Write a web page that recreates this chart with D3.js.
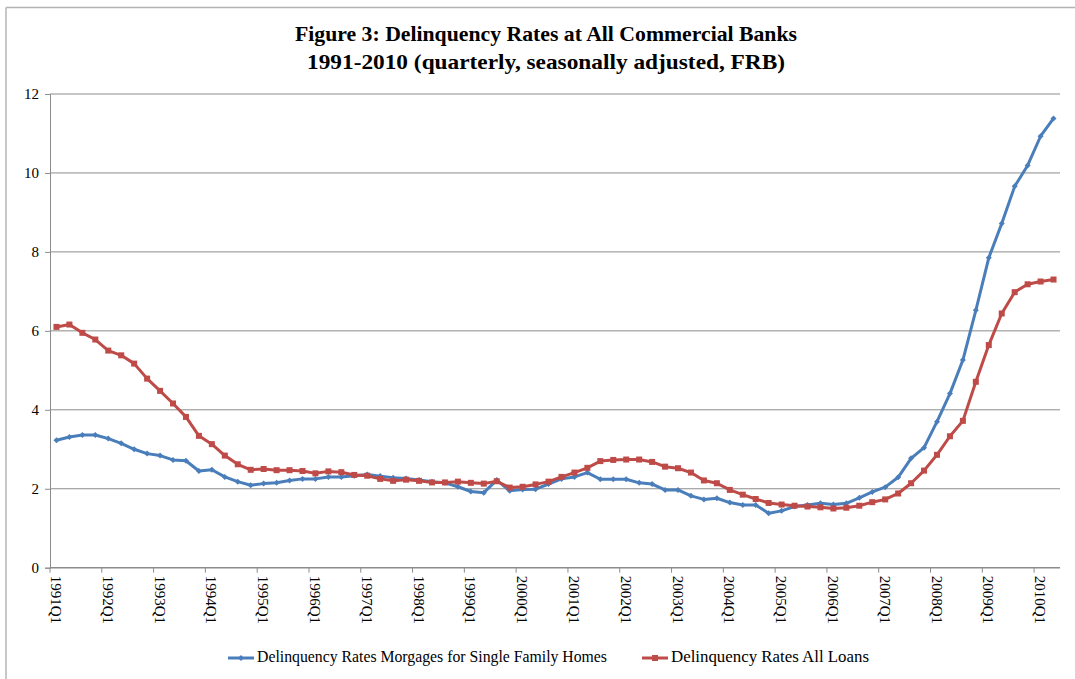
<!DOCTYPE html>
<html>
<head>
<meta charset="utf-8">
<script src="https://cdn.jsdelivr.net/npm/d3@7"></script>
<style>
  body { margin: 0; background: #fff; }
  svg { display: block; }
  svg text { font-family: "Liberation Serif", "DejaVu Serif", serif; fill: #000; }
</style>
</head>
<body>
<svg id="chart"></svg>
<script>
// quarterly categories 1991Q1 .. 2010Q2
const years = d3.range(1991, 2011);
const quarters = years.flatMap(y => [1, 2, 3, 4].map(q => y + "Q" + q)).slice(0, 78);

// Delinquency rates, single family home mortgages
const mortgages = [
  3.23, 3.31, 3.36, 3.36, 3.27, 3.15, 3.00, 2.89, 2.84, 2.73,
  2.71, 2.45, 2.48, 2.30, 2.18, 2.09, 2.13, 2.15, 2.21, 2.25,
  2.25, 2.30, 2.30, 2.33, 2.36, 2.32, 2.28, 2.26, 2.22, 2.18,
  2.15, 2.05, 1.93, 1.90, 2.22, 1.95, 1.98, 1.99, 2.12, 2.25,
  2.30, 2.41, 2.24, 2.24, 2.24, 2.15, 2.12, 1.97, 1.97, 1.82,
  1.73, 1.76, 1.65, 1.59, 1.59, 1.38, 1.44, 1.55, 1.59, 1.63,
  1.60, 1.63, 1.77, 1.92, 2.04, 2.29, 2.77, 3.04, 3.70, 4.41,
  5.26, 6.52, 7.85, 8.72, 9.66, 10.19, 10.93, 11.38
];

// Delinquency rates, all loans
const allLoans = [
  6.10, 6.16, 5.95, 5.78, 5.50, 5.38, 5.17, 4.79, 4.48, 4.16,
  3.82, 3.34, 3.13, 2.84, 2.62, 2.48, 2.50, 2.47, 2.47, 2.45,
  2.39, 2.44, 2.42, 2.35, 2.33, 2.25, 2.20, 2.23, 2.20, 2.16,
  2.16, 2.18, 2.15, 2.13, 2.19, 2.03, 2.05, 2.11, 2.18, 2.30,
  2.41, 2.53, 2.70, 2.73, 2.74, 2.74, 2.68, 2.56, 2.52, 2.41,
  2.21, 2.14, 1.97, 1.85, 1.74, 1.64, 1.60, 1.57, 1.55, 1.53,
  1.50, 1.52, 1.57, 1.66, 1.73, 1.88, 2.14, 2.46, 2.86, 3.33,
  3.72, 4.71, 5.64, 6.44, 6.98, 7.18, 7.25, 7.30
];

const yTicks = [0, 2, 4, 6, 8, 10, 12];

const seriesNames = [
  "Delinquency Rates Morgages for Single Family Homes",
  "Delinquency Rates All Loans"
];
const seriesColors = ["#4a7ebb", "#be4b48"];

const W = 1075, H = 679;
const svg = d3.select("#chart").attr("width", W).attr("height", H);

// outer frame (top and left edges only visible)
svg.append("line").attr("x1", 6).attr("x2", W).attr("y1", 7.5).attr("y2", 7.5)
  .attr("stroke", "#b4b4b4").attr("stroke-width", 1.5);
svg.append("line").attr("x1", 6).attr("x2", 6).attr("y1", 7.5).attr("y2", H)
  .attr("stroke", "#b4b4b4").attr("stroke-width", 1.5);

// title
svg.append("text").attr("x", 546).attr("y", 41).attr("text-anchor", "middle")
  .attr("font-size", 21).attr("font-weight", "bold")
  .attr("textLength", 502).attr("lengthAdjust", "spacingAndGlyphs")
  .text("Figure 3: Delinquency Rates at All Commercial Banks");
svg.append("text").attr("x", 546).attr("y", 69).attr("text-anchor", "middle")
  .attr("font-size", 21).attr("font-weight", "bold")
  .attr("textLength", 478).attr("lengthAdjust", "spacingAndGlyphs")
  .text("1991-2010 (quarterly, seasonally adjusted, FRB)");

const x = d3.scaleBand().domain(quarters).range([50, 1060]);
const y = d3.scaleLinear().domain([0, 12]).range([567.7, 94]);
const cx = d => x(d) + x.bandwidth() / 2;

// gridlines
svg.append("g").selectAll("line").data(yTicks.filter(t => t > 0)).join("line")
  .attr("x1", 50).attr("x2", 1060)
  .attr("y1", d => y(d)).attr("y2", d => y(d))
  .attr("stroke", "#8c8c8c").attr("stroke-width", 1);

// y axis
const yAxis = svg.append("g").attr("transform", "translate(50,0)")
  .call(d3.axisLeft(y).tickValues(yTicks).tickSize(5).tickPadding(6).tickFormat(d3.format("d")));
yAxis.attr("font-family", null);
yAxis.select(".domain").attr("stroke", "#8c8c8c");
yAxis.selectAll(".tick line").attr("stroke", "#8c8c8c");
yAxis.selectAll("text").attr("font-size", 15);

// x axis
svg.append("line").attr("x1", 50).attr("x2", 1060).attr("y1", y(0)).attr("y2", y(0))
  .attr("stroke", "#8c8c8c").attr("stroke-width", 1.5);
const firstQ = quarters.filter(q => q.endsWith("Q1"));
svg.append("g").selectAll("line").data(firstQ).join("line")
  .attr("x1", d => x(d)).attr("x2", d => x(d))
  .attr("y1", y(0)).attr("y2", y(0) + 5)
  .attr("stroke", "#8c8c8c");
svg.append("g").selectAll("text").data(firstQ).join("text")
  .attr("transform", d => `translate(${cx(d) - 2},${y(0) + 8}) rotate(90)`)
  .attr("dominant-baseline", "middle")
  .attr("font-size", 15)
  .text(d => d);

// lines
const series = [mortgages, allLoans];
const line = d3.line().x((d, i) => cx(quarters[i])).y(d => y(d));

series.forEach((vals, s) => {
  svg.append("path").datum(vals)
    .attr("d", line)
    .attr("fill", "none")
    .attr("stroke", seriesColors[s])
    .attr("stroke-width", 3)
    .attr("stroke-linejoin", "round");
});

// markers: small diamonds for mortgages, squares for all loans
svg.append("g").selectAll("path").data(mortgages).join("path")
  .attr("transform", (d, i) => `translate(${cx(quarters[i])},${y(d)})`)
  .attr("d", "M0,-3L3,0L0,3L-3,0Z")
  .attr("fill", seriesColors[0]);
svg.append("g").selectAll("rect").data(allLoans).join("rect")
  .attr("x", (d, i) => cx(quarters[i]) - 3)
  .attr("y", d => y(d) - 3)
  .attr("width", 6).attr("height", 6)
  .attr("fill", seriesColors[1]);

// legend
const legendX = [228, 642];
const legendW = [350, 198];
seriesNames.forEach((name, s) => {
  const g = svg.append("g").attr("transform", `translate(${legendX[s]},658)`);
  g.append("line").attr("x1", 0).attr("x2", 26)
    .attr("stroke", seriesColors[s]).attr("stroke-width", 3);
  if (s === 0) {
    g.append("path").attr("d", "M13,-3L16,0L13,3L10,0Z").attr("fill", seriesColors[s]);
  } else {
    g.append("rect").attr("x", 10).attr("y", -3).attr("width", 6).attr("height", 6)
      .attr("fill", seriesColors[s]);
  }
  g.append("text").attr("x", 29).attr("y", 0).attr("dominant-baseline", "middle")
    .attr("font-size", 16)
    .attr("textLength", legendW[s]).attr("lengthAdjust", "spacingAndGlyphs")
    .text(name);
});
</script>
</body>
</html>
